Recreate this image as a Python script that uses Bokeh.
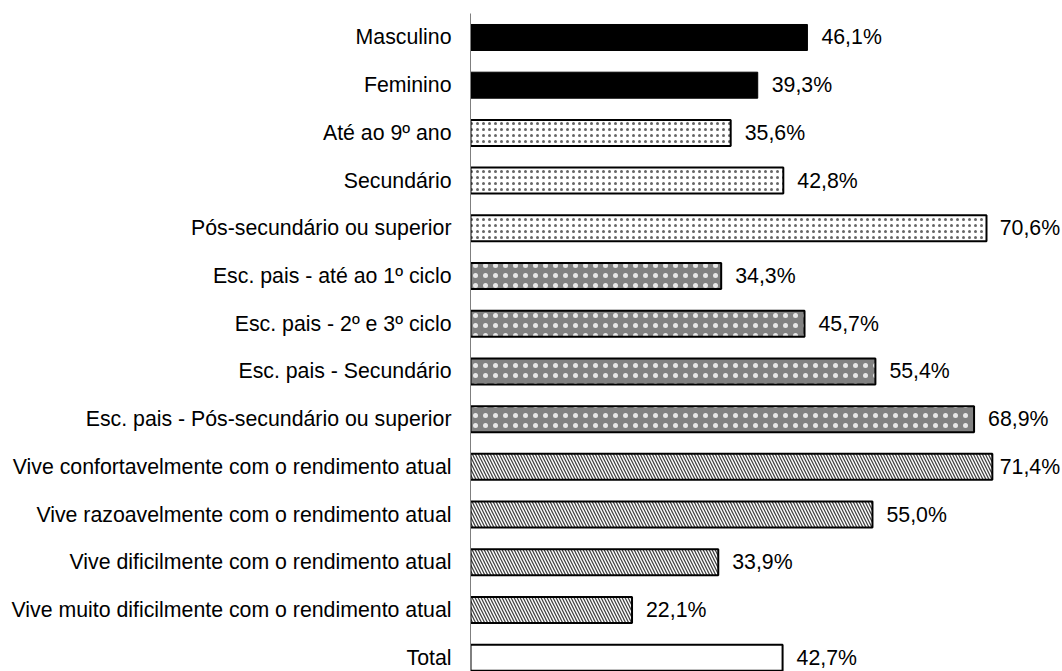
import numpy as np
from bokeh.plotting import figure
from bokeh.models import ColumnDataSource, Range1d, FixedTicker
from bokeh.core.properties import value
from bokeh.embed import file_html
from bokeh.resources import INLINE

categories = [
    "Masculino",
    "Feminino",
    "Até ao 9º ano",
    "Secundário",
    "Pós-secundário ou superior",
    "Esc. pais - até ao 1º ciclo",
    "Esc. pais - 2º e 3º ciclo",
    "Esc. pais - Secundário",
    "Esc. pais - Pós-secundário ou superior",
    "Vive confortavelmente com o rendimento atual",
    "Vive razoavelmente com o rendimento atual",
    "Vive dificilmente com o rendimento atual",
    "Vive muito dificilmente com o rendimento atual",
    "Total",
]
values = [46.1, 39.3, 35.6, 42.8, 70.6, 34.3, 45.7, 55.4, 68.9, 71.4, 55.0, 33.9, 22.1, 42.7]
groups = ["sexo", "sexo", "esc", "esc", "esc", "pais", "pais", "pais", "pais",
          "rend", "rend", "rend", "rend", "total"]

FONT = "Liberation Sans"
FS = "21.3px"

positions = list(range(len(categories)))
label_text = [f"{v:.1f}%".replace(".", ",") for v in values]
label_cap = 70.5
label_x = [min(v, label_cap) for v in values]

styles = {
    "sexo": dict(fill_color="black", line_color="black", line_width=1),
    "esc": dict(fill_color="white", line_color="black", line_width=2,
                hatch_pattern="dot", hatch_color="#666666", hatch_scale=6, hatch_weight=0.7),
    "pais": dict(fill_color="#828282", line_color="black", line_width=2,
                 hatch_pattern="dot", hatch_color="#e8e8e8", hatch_scale=10, hatch_weight=0.7),
    "rend": dict(fill_color="white", line_color="black", line_width=2,
                 hatch_pattern="\\", hatch_color="#444444", hatch_scale=6, hatch_weight=1.3),
    "total": dict(fill_color="white", line_color="black", line_width=2),
}

p = figure(width=1062, height=671, output_backend="svg", toolbar_location=None,
           x_range=Range1d(0, 81), y_range=Range1d(13.29, -0.503),
           min_border_left=470, min_border_right=0, min_border_top=13, min_border_bottom=0)

for g, st in styles.items():
    idx = [i for i, gg in enumerate(groups) if gg == g]
    src = ColumnDataSource(dict(y=[positions[i] for i in idx], v=[values[i] for i in idx]))
    p.hbar(y="y", right="v", left=0, height=0.545, source=src, **st)

lsrc = ColumnDataSource(dict(x=label_x, y=positions, t=label_text))
p.text(x="x", y="y", text="t", source=lsrc, x_offset=14, text_align="left",
       text_baseline="middle", text_font=value(FONT), text_font_size=FS, text_color="black")

p.xaxis.visible = False
p.xgrid.visible = False
p.ygrid.visible = False
p.outline_line_color = None

ya = p.yaxis[0]
ya.ticker = FixedTicker(ticks=positions)
ya.major_label_overrides = {i: c for i, c in zip(positions, categories)}
ya.major_tick_out = 0
ya.major_tick_in = 0
ya.minor_tick_out = 0
ya.minor_tick_in = 0
ya.major_label_standoff = 19
ya.major_label_text_font = FONT
ya.major_label_text_font_size = FS
ya.major_label_text_color = "black"
ya.axis_line_color = "#7f7f7f"
ya.axis_line_width = 1

open("out.html", "w").write(file_html(p, INLINE))
